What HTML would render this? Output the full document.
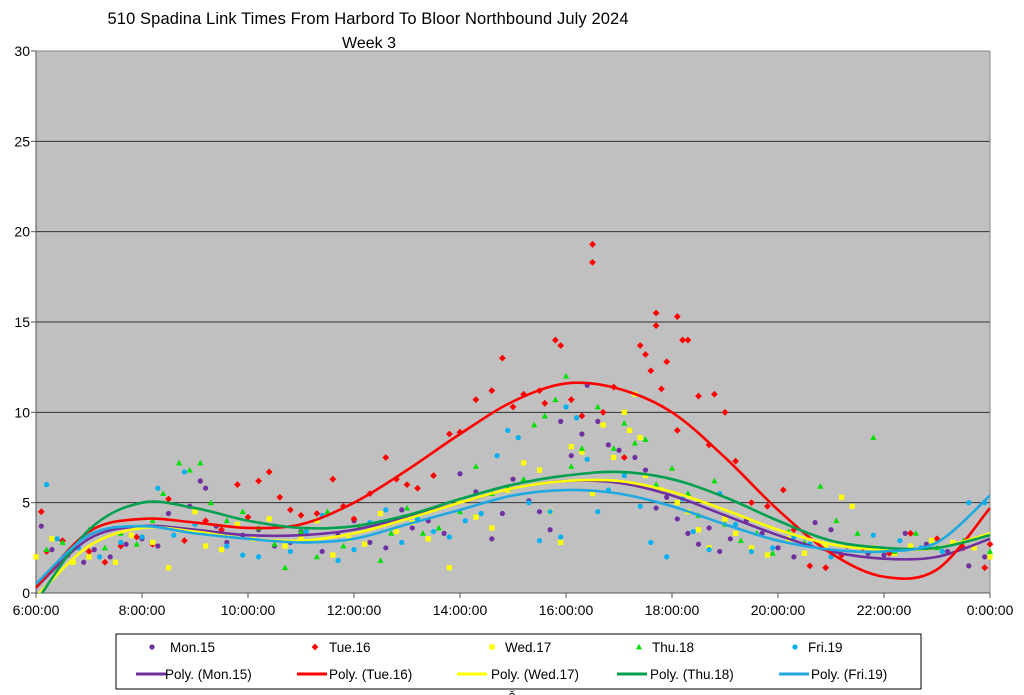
<!DOCTYPE html>
<html><head><meta charset="utf-8"><style>
body{margin:0;background:#fff;width:1024px;height:695px;overflow:hidden;font-family:"Liberation Sans",sans-serif}
svg{display:block}
</style></head><body>
<svg id="chart" width="1024" height="695" xmlns="http://www.w3.org/2000/svg">
<text x="368" y="24" text-anchor="middle" font-family="Liberation Sans, sans-serif" font-size="16.5" textLength="521" fill="#000">510 Spadina Link Times From Harbord To Bloor Northbound July 2024</text>
<text x="369" y="48" text-anchor="middle" font-family="Liberation Sans, sans-serif" font-size="16" fill="#000">Week 3</text>
<rect x="36" y="51" width="954" height="542" fill="#c0c0c0"/>
<g id="grid"></g><g id="axes"></g><g id="marks"></g><g id="trends"></g>
<g id="legend">
<rect x="116" y="634" width="805" height="55" fill="#fff" stroke="#000" stroke-width="1"/>
</g>
<text x="512" y="700" text-anchor="middle" font-size="13">ǒ</text>
</svg>
<script>
const xTicks=[6,8,10,12,14,16,18,20,22,24];
const xTickLabels=["6:00:00","8:00:00","10:00:00","12:00:00","14:00:00","16:00:00","18:00:00","20:00:00","22:00:00","0:00:00"];
const yTicks=[0,5,10,15,20,25,30];
const seriesNames=["Mon.15","Tue.16","Wed.17","Thu.18","Fri.19"];
const trendHours=[6,7,8,9,10,11,12,13,14,15,16,17,18,19,20,21,22,23,24];
const trendMon=[0.3,3.0,3.7,3.5,3.2,3.2,3.5,4.2,5.0,5.8,6.2,6.1,5.4,4.3,3.2,2.3,1.9,2.0,3.0];
const trendTue=[0.3,3.4,4.1,3.9,3.6,3.8,5.0,6.8,8.8,10.6,11.6,11.3,10.0,7.5,4.6,2.2,0.9,1.3,4.7];
const trendWed=[-0.2,2.6,3.6,3.4,3.0,2.9,3.3,4.1,5.0,5.8,6.2,6.2,5.6,4.6,3.5,2.7,2.4,2.5,3.3];
const trendThu=[-0.5,3.5,5.0,4.7,4.0,3.6,3.7,4.3,5.2,6.0,6.5,6.7,6.3,5.3,4.0,2.9,2.5,2.5,3.2];
const trendFri=[0.5,3.2,3.7,3.3,3.0,2.8,3.0,3.8,4.6,5.4,5.7,5.5,4.8,3.8,2.9,2.4,2.3,2.8,5.4];
const ptsMon=[[6.1,3.7],[6.3,2.4],[6.6,2.1],[6.9,1.7],[7.1,2.4],[7.4,2.0],[7.7,2.7],[8.0,3.0],[8.3,2.6],[8.5,4.4],[8.7,3.5],[8.9,4.8],[9.1,6.2],[9.2,5.8],[9.4,3.7],[9.6,2.8],[9.9,3.2],[10.2,3.5],[10.5,2.6],[10.8,2.8],[11.0,3.4],[11.4,2.3],[11.7,3.2],[12.0,4.0],[12.3,2.8],[12.6,2.5],[12.9,4.6],[13.1,3.6],[13.4,4.0],[13.7,3.3],[14.0,6.6],[14.3,5.6],[14.6,3.0],[14.8,4.4],[15.0,6.3],[15.3,5.1],[15.5,4.5],[15.7,3.5],[15.9,9.5],[16.1,7.6],[16.3,8.8],[16.4,11.5],[16.6,9.5],[16.8,8.2],[17.0,7.9],[17.3,7.5],[17.5,6.8],[17.7,4.7],[17.9,5.3],[18.1,4.1],[18.3,3.3],[18.5,2.7],[18.7,3.6],[18.9,2.3],[19.1,3.0],[19.4,4.0],[19.7,3.3],[20.0,2.5],[20.3,2.0],[20.7,3.9],[21.0,3.5],[21.3,2.6],[21.7,2.2],[22.0,2.1],[22.4,3.3],[22.8,2.7],[23.2,2.3],[23.6,1.5],[23.9,2.0]];
const ptsTue=[[6.1,4.5],[6.2,2.3],[6.5,2.9],[7.0,2.3],[7.3,1.7],[7.6,2.6],[7.9,3.1],[8.2,2.7],[8.5,5.2],[8.8,2.9],[9.2,4.0],[9.5,3.5],[9.8,6.0],[10.0,4.2],[10.2,6.2],[10.4,6.7],[10.6,5.3],[10.8,4.6],[11.0,4.3],[11.3,4.4],[11.6,6.3],[11.8,4.8],[12.0,4.1],[12.3,5.5],[12.6,7.5],[12.8,6.3],[13.0,6.0],[13.2,5.8],[13.5,6.5],[13.8,8.8],[14.0,8.9],[14.3,10.7],[14.6,11.2],[14.8,13.0],[15.0,10.3],[15.2,11.0],[15.5,11.2],[15.6,10.5],[15.8,14.0],[15.9,13.7],[16.1,10.7],[16.3,9.8],[16.5,19.3],[16.5,18.3],[16.7,10.0],[16.9,11.4],[17.1,7.5],[17.4,13.7],[17.5,13.2],[17.6,12.3],[17.7,15.5],[17.7,14.8],[17.8,11.3],[17.9,12.8],[18.1,15.3],[18.2,14.0],[18.3,14.0],[18.1,9.0],[18.5,10.9],[18.7,8.2],[18.8,11.0],[19.0,10.0],[19.2,7.3],[19.5,5.0],[19.8,4.8],[20.1,5.7],[20.3,3.5],[20.6,1.5],[20.9,1.4],[21.2,2.1],[21.6,2.5],[22.1,2.2],[22.5,3.3],[23.0,3.0],[23.5,2.5],[23.9,1.4],[24.0,2.7]];
const ptsWed=[[6.0,2.0],[6.3,3.0],[6.7,1.7],[7.0,2.0],[7.5,1.7],[7.8,3.2],[8.2,2.8],[8.5,1.4],[8.7,3.5],[9.0,4.5],[9.2,2.6],[9.5,2.4],[9.8,3.8],[10.1,3.0],[10.4,4.1],[10.7,2.6],[11.0,3.0],[11.3,4.0],[11.6,2.1],[11.9,3.0],[12.2,2.7],[12.5,4.4],[12.8,3.4],[13.1,3.9],[13.4,3.0],[13.8,1.4],[14.0,5.1],[14.3,4.2],[14.6,3.6],[14.9,5.7],[15.2,7.2],[15.5,6.8],[15.7,4.5],[15.9,2.8],[16.1,8.1],[16.3,7.8],[16.5,5.5],[16.7,9.3],[16.9,7.5],[17.1,10.0],[17.2,9.0],[17.3,11.0],[17.4,8.6],[17.5,6.5],[17.8,5.7],[18.1,5.0],[18.3,4.5],[18.5,3.5],[18.7,2.5],[19.0,4.1],[19.2,3.3],[19.5,2.5],[19.8,2.1],[20.2,3.0],[20.5,2.2],[20.9,2.6],[21.2,5.3],[21.4,4.8],[21.8,2.5],[22.2,2.2],[22.5,2.6],[22.9,2.9],[23.3,2.8],[23.7,2.5],[24.0,2.0]];
const ptsThu=[[6.2,2.4],[6.5,2.8],[7.0,3.5],[7.3,2.5],[7.6,3.3],[7.9,2.7],[8.2,4.0],[8.4,5.5],[8.7,7.2],[8.9,6.8],[9.1,7.2],[9.3,5.0],[9.6,4.0],[9.9,4.5],[10.2,3.6],[10.5,2.7],[10.7,1.4],[11.0,3.4],[11.3,2.0],[11.5,4.5],[11.8,2.6],[12.1,3.7],[12.5,1.8],[12.7,3.3],[13.0,4.7],[13.3,3.3],[13.6,3.6],[14.0,4.5],[14.3,7.0],[14.6,5.5],[14.9,5.8],[15.2,6.3],[15.4,9.3],[15.6,9.8],[15.8,10.7],[16.0,12.0],[16.1,7.0],[16.3,8.0],[16.6,10.3],[16.9,8.0],[17.1,9.4],[17.3,8.3],[17.5,8.5],[17.7,6.0],[18.0,6.9],[18.3,5.5],[18.5,4.3],[18.8,6.2],[19.0,3.8],[19.3,2.9],[19.6,3.3],[19.9,2.2],[20.2,3.4],[20.5,2.8],[20.8,5.9],[21.1,4.0],[21.5,3.3],[21.8,8.6],[22.2,2.3],[22.6,3.3],[23.0,2.5],[23.5,2.9],[24.0,2.3]];
const ptsFri=[[6.2,6.0],[6.4,3.0],[6.8,2.5],[7.2,2.0],[7.6,2.8],[8.0,3.1],[8.3,5.8],[8.6,3.2],[8.8,6.7],[9.0,3.8],[9.3,3.3],[9.6,2.6],[9.9,2.1],[10.2,2.0],[10.5,3.7],[10.8,2.3],[11.1,3.4],[11.4,4.3],[11.7,1.8],[12.0,2.4],[12.3,3.9],[12.6,4.6],[12.9,2.8],[13.2,4.1],[13.5,3.4],[13.8,3.1],[14.1,4.0],[14.4,4.4],[14.7,7.6],[14.9,9.0],[15.1,8.6],[15.3,5.0],[15.5,2.9],[15.7,4.5],[15.9,3.1],[16.0,10.3],[16.2,9.7],[16.4,7.4],[16.6,4.5],[16.8,5.7],[17.1,6.5],[17.4,4.8],[17.6,2.8],[17.9,2.0],[18.2,5.2],[18.4,3.4],[18.7,2.4],[18.9,5.5],[19.2,3.8],[19.5,2.3],[19.9,2.5],[20.3,3.1],[20.6,2.7],[21.0,2.0],[21.4,2.6],[21.8,3.2],[22.3,2.9],[22.7,2.5],[23.1,2.3],[23.6,5.0],[23.9,5.0]];

const NS="http://www.w3.org/2000/svg";
const L=36,R=990,T=51,B=593;
function xs(h){return L+(h-6)/18*(R-L);}
function ys(v){return B-v/30*(B-T);}
function mk(tag,attrs,parent){const e=document.createElementNS(NS,tag);for(const k in attrs)e.setAttribute(k,attrs[k]);parent.appendChild(e);return e;}
const grid=document.getElementById('grid'),axes=document.getElementById('axes'),marks=document.getElementById('marks'),trends=document.getElementById('trends'),legend=document.getElementById('legend');
yTicks.forEach(v=>{
  if(v>0&&v<30){const g=mk('line',{x1:L,x2:R,y1:ys(v),y2:ys(v),stroke:'#333','stroke-width':1},grid);
  
  }
  mk('line',{x1:L-5,x2:L,y1:ys(v),y2:ys(v),stroke:'#555'},axes);
  const t=mk('text',{x:L-6,y:ys(v)+5,'text-anchor':'end','font-size':14,fill:'#000'},axes);t.textContent=v;
  
  
});
mk('line',{x1:L,x2:L,y1:T,y2:B,stroke:'#555'},axes);
mk('line',{x1:L,x2:R,y1:B,y2:B,stroke:'#555'},axes);
mk('line',{x1:R,x2:R,y1:T,y2:B,stroke:'#888'},axes);
mk('line',{x1:L,x2:R,y1:T,y2:T,stroke:'#888'},axes);
xTicks.forEach((h,i)=>{
  mk('line',{x1:xs(h),x2:xs(h),y1:B,y2:B+5,stroke:'#555'},axes);
  const t=mk('text',{x:xs(h),y:B+22,'text-anchor':'middle','font-size':14,fill:'#000'},axes);t.textContent=xTickLabels[i];
  
  
});
const mColors=['#7030a0','#ff0000','#ffff00','#00e000','#00b0f0'];
const lColors=['#7030a0','#ff0000','#ffff00','#00a050','#20a8e0'];
const shapes=['circle','diamond','square','triangle','circle'];
function marker(shape,x,y,c,parent){
  if(shape==='circle')return mk('circle',{cx:x,cy:y,r:2.6,fill:c},parent);
  if(shape==='square')return mk('rect',{x:x-2.6,y:y-2.6,width:5.2,height:5.2,fill:c},parent);
  if(shape==='diamond')return mk('path',{d:`M${x} ${y-3.4}L${x+3.4} ${y}L${x} ${y+3.4}L${x-3.4} ${y}Z`,fill:c},parent);
  return mk('path',{d:`M${x} ${y-3.2}L${x+3} ${y+2.4}L${x-3} ${y+2.4}Z`,fill:c},parent);
}
const allPts=[ptsMon,ptsTue,ptsWed,ptsThu,ptsFri];
const allTrends=[trendMon,trendTue,trendWed,trendThu,trendFri];
allPts.forEach((pts,s)=>{pts.forEach(p=>{
  const m=marker(shapes[s],xs(p[0]),ys(p[1]),mColors[s],marks);
  
  
});});
function smooth(pts){
  let d=`M${pts[0][0]} ${pts[0][1]}`;
  for(let i=0;i<pts.length-1;i++){
    const p0=pts[Math.max(0,i-1)],p1=pts[i],p2=pts[i+1],p3=pts[Math.min(pts.length-1,i+2)];
    const c1=[p1[0]+(p2[0]-p0[0])/6,p1[1]+(p2[1]-p0[1])/6],c2=[p2[0]-(p3[0]-p1[0])/6,p2[1]-(p3[1]-p1[1])/6];
    d+=`C${c1[0]} ${c1[1]} ${c2[0]} ${c2[1]} ${p2[0]} ${p2[1]}`;
  }
  return d;
}
const cp=mk('clipPath',{id:'clip'},document.getElementById('chart'));
mk('rect',{x:L,y:T,width:R-L,height:B-T},cp);
trends.setAttribute('clip-path','url(#clip)');
allTrends.forEach((tr,s)=>{
  const pts=trendHours.map((h,i)=>[xs(h),ys(tr[i])]);
  const p=mk('path',{d:smooth(pts),fill:'none',stroke:lColors[s],'stroke-width':2.6},trends);
  
  
});
const legMx=[152,315,492,639,795],legTx=[170,329,505,652,808];
const legLx=[136,297,457,617,779],legLt=[165,329,491,650,811];
seriesNames.forEach((n,s)=>{
  const g=mk('g',{},legend);
  
  
  marker(shapes[s],legMx[s],647,mColors[s],g);
  const t=mk('text',{x:legTx[s],y:652,'font-size':13.5},g);t.textContent=n;
  const g2=mk('g',{},legend);
  
  
  mk('line',{x1:legLx[s],x2:legLx[s]+30,y1:674,y2:674,stroke:lColors[s],'stroke-width':3},g2);
  const t2=mk('text',{x:legLt[s],y:679,'font-size':13.5},g2);t2.textContent='Poly. ('+n+')';
});
</script>
</body></html>
